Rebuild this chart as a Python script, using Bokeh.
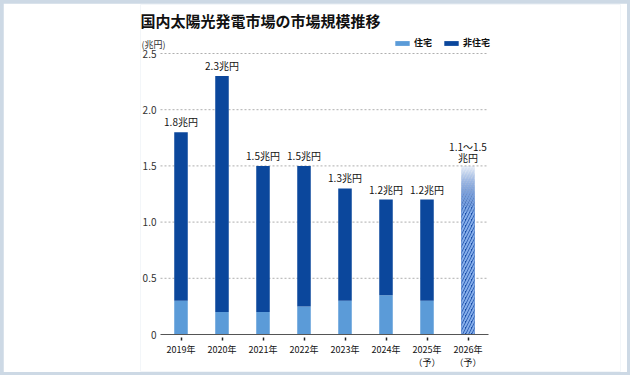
from bokeh.plotting import figure
from bokeh.models import (Range1d, FixedTicker, NumeralTickFormatter, Label, LinearAxis,
                          Legend, LegendItem, ColumnDataSource, GlobalInlineStyleSheet)
from bokeh.core.properties import value
from bokeh.embed import file_html
from bokeh.resources import INLINE

# ---- data ----
years = ["2019年", "2020年", "2021年", "2022年", "2023年", "2024年", "2025年\n（予）", "2026年\n（予）"]
residential = [0.3, 0.2, 0.2, 0.25, 0.3, 0.35, 0.3]
non_residential = [1.5, 2.1, 1.3, 1.25, 1.0, 0.85, 0.9]
total_labels = ["1.8兆円", "2.3兆円", "1.5兆円", "1.5兆円", "1.3兆円", "1.2兆円", "1.2兆円"]
forecast_low = 1.1
forecast_high = 1.5
forecast_label_1 = "1.1〜1.5"
forecast_label_2 = "兆円"
y_ticks = [0, 0.5, 1.0, 1.5, 2.0, 2.5]

FONT = "Noto Sans CJK JP"
C_RES = "#5b9bd8"
C_NON = "#0b479c"
C_FC = "#164ba6"
C_FC_HATCH = "#86aeea"

# ---- layout (pixels, figure coordinates; page = figure + 3) ----
W, H = 624, 369
MB_LEFT, MB_RIGHT, MB_TOP, MB_BOTTOM = 137, 7, 1, 1
PX_PER_CAT = 41.0
PX_PER_UNIT = 112.4
ZERO_Y = 331          # y of the value 0, from the figure top
CAT_X = 157           # x of the first category edge, from the figure left
frame_w = W - MB_LEFT - MB_RIGHT
frame_top = MB_TOP
frame_bottom = H - MB_BOTTOM
x0 = -(CAT_X - MB_LEFT) / PX_PER_CAT
x1 = x0 + frame_w / PX_PER_CAT
y0 = -(frame_bottom - ZERO_Y) / PX_PER_UNIT
y1 = (ZERO_Y - frame_top) / PX_PER_UNIT

ncat = len(years)
xpos = [i + 0.5 for i in range(ncat)]

p = figure(x_range=Range1d(x0, x1), y_range=Range1d(y0, y1),
           width=W, height=H, output_backend="svg", toolbar_location=None,
           min_border_left=MB_LEFT, min_border_right=MB_RIGHT, min_border_top=MB_TOP,
           min_border_bottom=MB_BOTTOM, y_axis_location=None, x_axis_location=None)
p.stylesheets = [GlobalInlineStyleSheet(css="html,body{margin:0;padding:0;overflow:hidden;background:#cdd9e5;} body{padding:3px;}")]
p.background_fill_color = "white"
p.border_fill_color = "white"
p.outline_line_color = None
p.xgrid.grid_line_color = None
p.ygrid.grid_line_color = None

# dotted gridlines across the category span
grid_y = [t for t in y_ticks if t > 0]
p.segment(x0=[0] * len(grid_y), x1=[ncat] * len(grid_y), y0=grid_y, y1=grid_y,
          line_color="#9a9a9a", line_dash="2 2", line_width=0.8)

totals = [r + n for r, n in zip(residential, non_residential)]
src = ColumnDataSource(dict(x=xpos[:7], res=residential, tot=totals, lab=total_labels))
bw = 0.33
r1 = p.vbar(x="x", bottom=0, top="res", width=bw, source=src, color=C_RES, line_color=None)
r2 = p.vbar(x="x", bottom="res", top="tot", width=bw, source=src, color=C_NON, line_color=None)

# forecast bar: hatched solid part, then fading part
fx = xpos[7]
p.vbar(x=[fx], bottom=[0], top=[forecast_low], width=bw, fill_color=C_FC, line_color=None,
       hatch_pattern="/", hatch_color=C_FC_HATCH, hatch_scale=6, hatch_weight=2)
n = 24
step = (forecast_high - forecast_low) / n
bots = [forecast_low + i * step for i in range(n)]
tops = [b + step for b in bots]
alphas = [1.0 - (i + 0.5) / n * 0.95 for i in range(n)]
p.vbar(x=[fx] * n, bottom=bots, top=tops, width=bw, fill_color=C_FC, fill_alpha=alphas,
       line_color=None, hatch_pattern="/", hatch_color=C_FC_HATCH, hatch_alpha=alphas,
       hatch_scale=6, hatch_weight=2)

# value labels
p.text(x="x", y="tot", text="lab", source=src, text_align="center", text_baseline="bottom",
       y_offset=-3, text_font=value(FONT), text_font_size="10px", text_color="#111111")
p.text(x=[fx], y=[forecast_high], text=[forecast_label_2], text_align="center",
       text_baseline="bottom", y_offset=-1, text_font=value(FONT), text_font_size="10px",
       text_color="#111111")
p.text(x=[fx], y=[forecast_high], text=[forecast_label_1], text_align="center",
       text_baseline="bottom", y_offset=-12, text_font=value(FONT), text_font_size="10px",
       text_color="#111111")

# y axis at the left edge of the categories
yax = LinearAxis(fixed_location=0)
yax.ticker = FixedTicker(ticks=y_ticks)
yax.formatter = NumeralTickFormatter(format="0.0")
yax.major_label_overrides = {0: "0"}
yax.axis_line_color = None
yax.major_tick_line_color = None
yax.major_tick_out = 0
yax.major_tick_in = 0
yax.minor_tick_line_color = None
yax.minor_tick_out = 0
yax.major_label_standoff = 4
yax.major_label_text_font = FONT
yax.major_label_text_font_size = "10px"
yax.major_label_text_color = "#333333"
p.add_layout(yax, "left")

# x axis at value 0
xax = LinearAxis(fixed_location=0)
xax.bounds = (0, ncat)
xax.ticker = FixedTicker(ticks=xpos)
xax.major_label_overrides = {xp: yr for xp, yr in zip(xpos, years)}
xax.minor_tick_line_color = None
xax.minor_tick_out = 0
xax.axis_line_color = "#555555"
xax.axis_line_width = 1.2
xax.major_tick_line_color = "#222222"
xax.major_tick_in = -3
xax.major_tick_out = 6
xax.major_tick_line_width = 1.5
xax.major_label_standoff = 2
xax.major_label_text_font = FONT
xax.major_label_text_font_size = "9px"
xax.major_label_text_color = "#111111"
xax.major_label_text_line_height = 1.0
p.add_layout(xax, "below")

# title and unit
p.add_layout(Label(x=x0, y=(ZERO_Y - 17) / PX_PER_UNIT, text="国内太陽光発電市場の市場規模推移",
                   text_font=FONT, text_font_size="15px", text_font_style="bold",
                   text_color="#111111", text_baseline="middle"))
p.add_layout(Label(x=x0, y=(ZERO_Y - 41) / PX_PER_UNIT, text="(兆円)", text_font=FONT,
                   text_font_size="9px", text_color="#333333", text_baseline="middle",
                   x_offset=1))

legend = Legend(items=[LegendItem(label="住宅", renderers=[r1]),
                       LegendItem(label="非住宅", renderers=[r2])],
                orientation="horizontal", location=(253, frame_bottom - ZERO_Y + 285),
                padding=0, margin=0,
                spacing=8, glyph_width=18, glyph_height=6, label_standoff=3,
                label_text_font=FONT, label_text_font_size="9px", label_text_font_style="bold",
                label_text_color="#111111", background_fill_alpha=0, border_line_color=None,
                label_height=10)
p.add_layout(legend, "center")

open("out.html", "w").write(file_html(p, INLINE))
